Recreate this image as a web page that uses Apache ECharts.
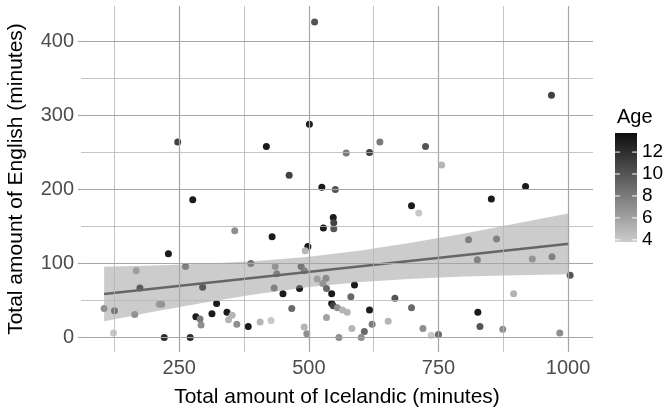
<!DOCTYPE html>
<html>
<head>
<meta charset="utf-8">
<script src="https://cdn.jsdelivr.net/npm/echarts@6/dist/echarts.min.js"></script>
<style>
  html, body { margin: 0; padding: 0; background: #ffffff; }
  #chart { width: 665px; height: 410px; }
</style>
</head>
<body>
<div id="chart"></div>
<script>
// Minutes of Icelandic vs. English per child, shaded by age
const icelandic = [247, 511, 501, 418, 462, 572, 617, 637, 725, 756, 968, 276, 357, 229, 262, 388, 167, 174, 295, 105,
  125, 164, 123, 211, 216, 322, 282, 290, 292, 313, 342, 352, 345, 361, 383, 406, 221, 271, 525, 551,
  547, 548, 548, 528, 429, 498, 493, 698, 712, 435, 438, 485, 491, 433, 450, 482, 516, 533, 527, 534,
  544, 544, 547, 555, 565, 574, 588, 581, 666, 698, 617, 467, 534, 427, 491, 496, 583, 622, 607, 601,
  558, 653, 720, 736, 750, 918, 852, 808, 862, 825, 931, 969, 1004, 895, 826, 830, 874, 984];
const english = [264, 426, 288, 258, 219, 249, 250, 264, 258, 233, 327, 186, 144, 113, 96, 100, 90, 67, 68, 39,
  36, 31, 6, 45, 45, 46, 28, 25, 17, 32, 34, 30, 24, 18, 15, 21, 0, 0, 203, 200,
  162, 155, 147, 148, 136, 123, 117, 178, 168, 96, 86, 96, 90, 67, 59, 66, 79, 80, 73, 66,
  59, 46, 43, 40, 37, 34, 71, 55, 53, 40, 37, 39, 27, 23, 14, 5, 12, 18, 8, 0,
  0, 22, 12, 3, 4, 204, 187, 132, 133, 105, 106, 109, 84, 59, 34, 15, 11, 6];
const age = [11, 10, 13, 13, 11, 8, 11, 8, 10, 5, 11, 13, 7, 13, 9, 9, 6, 13, 13, 7,
  10, 7, 4, 6, 7, 13, 13, 8, 7, 13, 13, 5, 5, 7, 13, 5, 12, 12, 13, 10,
  13, 11, 10, 13, 13, 13, 5, 13, 4, 7, 9, 10, 9, 9, 13, 13, 6, 8, 7, 9,
  13, 13, 11, 7, 5, 5, 13, 9, 10, 9, 13, 9, 6, 4, 5, 7, 5, 8, 9, 7,
  7, 5, 7, 4, 9, 13, 13, 9, 9, 9, 7, 9, 10, 5, 13, 10, 7, 7];

// Linear fit and its confidence band
const fitX = [105, 1002];
const fitY = [58.7, 126.7];
const bandX = [105, 200, 300, 400, 500, 600, 700, 800, 900, 1002];
const bandLow = [21.8, 34.6, 47.3, 58.8, 68.2, 75.0, 79.3, 82.2, 84.2, 85.5];
const bandHigh = [95.6, 97.2, 99.7, 103.4, 109.2, 117.6, 128.3, 140.6, 153.8, 167.9];

// Axis ticks and grid
const xTicks = [250, 500, 750, 1000];
const xMinor = [125, 375, 625, 875];
const yTicks = [0, 100, 200, 300, 400];
const yMinor = [50, 150, 250, 350];
const ageTicks = [4, 6, 8, 10, 12];
const ageRange = [3.8, 13.74];

const lowColor = '#cccccc';
const highColor = '#0d0d0d';
const fontFamily = 'Liberation Sans, Arial, sans-serif';

const points = icelandic.map((v, i) => [v, english[i], age[i]]);

const gridLines = [];
xTicks.forEach(v => gridLines.push({ xAxis: v, lineStyle: { color: '#a6a6a6', width: 1.2, type: 'solid' } }));
xMinor.forEach(v => gridLines.push({ xAxis: v, lineStyle: { color: '#b5b5b5', width: 0.8, type: 'solid' } }));
yTicks.forEach(v => gridLines.push({ yAxis: v, lineStyle: { color: '#a6a6a6', width: 1.2, type: 'solid' } }));
yMinor.forEach(v => gridLines.push({ yAxis: v, lineStyle: { color: '#b5b5b5', width: 0.8, type: 'solid' } }));

const plain = v => String(v);

const chart = echarts.init(document.getElementById('chart'), null, { renderer: 'canvas' });

chart.setOption({
  animation: false,
  backgroundColor: '#ffffff',
  textStyle: { fontFamily: fontFamily },
  grid: [
    { left: 81, top: 6, width: 512, height: 346, containLabel: false, outerBoundsMode: 'none' },
    { left: 615, top: 133, width: 22, height: 109, containLabel: false, outerBoundsMode: 'none' }
  ],
  xAxis: [
    {
      type: 'value', gridIndex: 0, min: 60.4, max: 1048.1,
      name: 'Total amount of Icelandic (minutes)', nameLocation: 'middle', nameGap: 35,
      nameTextStyle: { color: '#000000', fontSize: 21 },
      axisLine: { show: false },
      axisTick: { show: true, length: 3, customValues: xTicks, lineStyle: { color: '#a6a6a6', width: 1.2 } },
      axisLabel: { customValues: xTicks, formatter: plain, color: '#4d4d4d', fontSize: 20, margin: 6 },
      splitLine: { show: false }
    },
    { type: 'value', gridIndex: 1, min: 0, max: 1, show: false }
  ],
  yAxis: [
    {
      type: 'value', gridIndex: 0, min: -19.6, max: 447.7,
      name: 'Total amount of English (minutes)', nameLocation: 'middle', nameGap: 54,
      nameTextStyle: { color: '#000000', fontSize: 21 },
      axisLine: { show: false },
      axisTick: { show: true, length: 3, customValues: yTicks, lineStyle: { color: '#a6a6a6', width: 1.2 } },
      axisLabel: { customValues: yTicks, formatter: plain, color: '#4d4d4d', fontSize: 20, margin: 7 },
      splitLine: { show: false }
    },
    {
      type: 'value', gridIndex: 1, position: 'right', min: ageRange[0], max: ageRange[1],
      axisLine: { show: false }, axisTick: { show: false }, splitLine: { show: false },
      axisLabel: { customValues: ageTicks, formatter: plain, color: '#000000', fontSize: 19, margin: 5 }
    }
  ],
  visualMap: {
    show: false, type: 'continuous', seriesIndex: 1, dimension: 2,
    min: ageRange[0], max: ageRange[1],
    inRange: { color: [lowColor, highColor] }
  },
  graphic: [
    { type: 'text', left: 617, top: 107, style: { text: 'Age', fontSize: 20, fill: '#000000', fontFamily: fontFamily } }
  ],
  series: [
    {
      // panel grid lines
      type: 'line', xAxisIndex: 0, yAxisIndex: 0, data: [], z: 0, silent: true,
      markLine: { silent: true, symbol: ['none', 'none'], label: { show: false }, animation: false, data: gridLines }
    },
    {
      type: 'scatter', xAxisIndex: 0, yAxisIndex: 0, data: points, symbolSize: 7, z: 2,
      itemStyle: { opacity: 1 }
    },
    {
      // confidence band
      type: 'custom', xAxisIndex: 0, yAxisIndex: 0, z: 3, silent: true,
      data: [[bandX[0], bandLow[0]]],
      renderItem: function (params, api) {
        const pts = [];
        for (let i = 0; i < bandX.length; i++) pts.push(api.coord([bandX[i], bandHigh[i]]));
        for (let i = bandX.length - 1; i >= 0; i--) pts.push(api.coord([bandX[i], bandLow[i]]));
        return { type: 'polygon', shape: { points: pts }, style: { fill: 'rgba(153,153,153,0.5)' } };
      }
    },
    {
      type: 'line', xAxisIndex: 0, yAxisIndex: 0, z: 4, silent: true,
      data: fitX.map((v, i) => [v, fitY[i]]), symbol: 'none',
      lineStyle: { color: '#666666', width: 2.6 }
    },
    {
      // colour bar for age
      type: 'custom', xAxisIndex: 1, yAxisIndex: 1, z: 2, silent: true,
      data: [[0, ageRange[0]]],
      renderItem: function (params, api) {
        const bl = api.coord([0, ageRange[0]]);
        const tr = api.coord([1, ageRange[1]]);
        const w = tr[0] - bl[0];
        const children = [{
          type: 'rect',
          shape: { x: bl[0], y: tr[1], width: w, height: bl[1] - tr[1] },
          style: { fill: { type: 'linear', x: 0, y: 1, x2: 0, y2: 0, colorStops: [{ offset: 0, color: lowColor }, { offset: 1, color: highColor }] } }
        }];
        ageTicks.forEach(t => {
          const p = api.coord([0, t]);
          children.push({ type: 'line', shape: { x1: bl[0], y1: p[1], x2: bl[0] + w * 0.22, y2: p[1] }, style: { stroke: '#ffffff', lineWidth: 1 } });
          children.push({ type: 'line', shape: { x1: tr[0] - w * 0.22, y1: p[1], x2: tr[0], y2: p[1] }, style: { stroke: '#ffffff', lineWidth: 1 } });
        });
        return { type: 'group', children: children };
      }
    }
  ]
});
</script>
</body>
</html>
